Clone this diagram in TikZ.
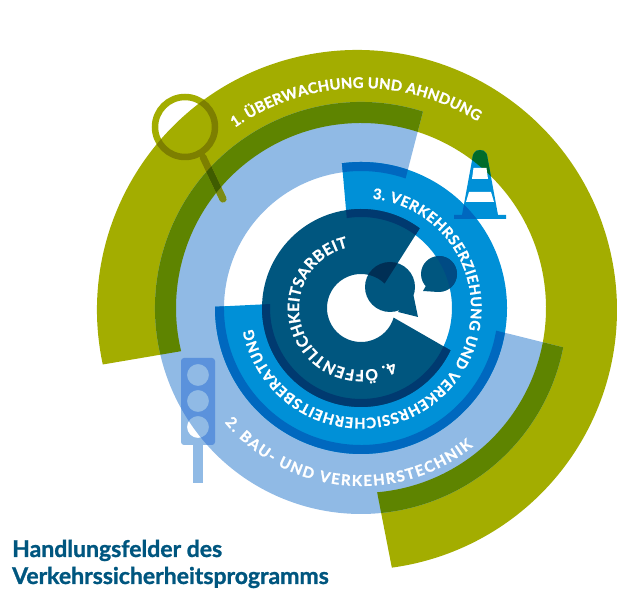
\documentclass[tikz,border=0pt]{standalone}
\usepackage{fontspec}
\setmainfont{Lato}[BoldFeatures={FakeBold=1.2}]
\usetikzlibrary{decorations.text}

\definecolor{olivering}{HTML}{A3AD00}
\definecolor{darkgreen}{HTML}{5E8400}
\definecolor{lightblue}{HTML}{90BAE5}
\definecolor{midblue}{HTML}{0090D7}
\definecolor{deepblue}{HTML}{0068BF}
\definecolor{petrol}{HTML}{00567F}
\definecolor{navy}{HTML}{003A70}
\definecolor{lensdark}{HTML}{7D7F00}
\definecolor{lensblue}{HTML}{7B8B14}
\definecolor{lensdeep}{HTML}{3F5C00}
\definecolor{conegreen}{HTML}{006B2A}
\definecolor{lampblue}{HTML}{5B92DC}
\definecolor{bubbleblue}{HTML}{004B84}
\definecolor{bubbledark}{HTML}{002F55}

% outer start, outer end, outer radius, inner radius, inner end, inner start
\newcommand{\ringseg}[6]{([shift={(#1:#3)}]mid) arc[start angle=#1,end angle=#2,radius=#3]
  -- ([shift={(#5:#4)}]mid) arc[start angle=#5,end angle=#6,radius=#4] -- cycle}
\newcommand{\ringone}{([shift={(192.1:260)}]outermid) arc[start angle=192.1,end angle=-82.3,radius=260]
  -- ([shift={(-85:185)}]mid) arc[start angle=-85,end angle=193.5,radius=185] -- cycle}
\newcommand{\ringtwo}{\ringseg{72.5}{349}{206}{137}{350.5}{71}}
\newcommand{\ringthree}{\ringseg{97.5}{-180.5}{146}{91}{-182.5}{99}}
\newcommand{\ringfour}{\ringseg{53.6}{334.7}{99}{34}{343.6}{46}}
\newcommand{\bubblebig}{(390,313) circle[radius=25] (413,307) -- (398,288) -- (418,283) -- cycle}
\newcommand{\bubblesmall}{(439,326) circle[radius=18] (428,318) -- (423,309) -- (438,308) -- cycle}
\newcommand{\conebody}{(473,445) -- (474,447) .. controls (476,451) and (484,451) .. (486,447) -- (487,445) -- (498,385)
  -- (506,385) -- (506,381) -- (454,381) -- (454,385) -- (462,385) -- cycle}
\newcommand{\lampbox}{[rounded corners=3pt] (181,242) rectangle (215,155) [sharp corners] (198,225) circle[radius=11]
  (198,199) circle[radius=11] (198,173) circle[radius=11]}
\newcommand{\lens}[1]{\draw[lensline,#1] (185,473) circle[radius=30];
  \draw[lensline,line width=7pt,line cap=round,#1] (203,443) -- (223,401);}

\tikzset{
  lensline/.style={line width=6.5pt}
}

\begin{document}
\begin{tikzpicture}[x=1pt,y=1pt]
  \useasboundingbox (0,0) rectangle (638,600);
  \coordinate (mid) at (361,292);
  \coordinate (outermid) at (357,290);

  % Field 1
  \fill[olivering] \ringone;

  % Field 2
  \fill[lightblue] \ringtwo;
  \begin{scope}
    \clip \ringone;
    \fill[darkgreen] \ringtwo;
  \end{scope}

  % Field 3
  \fill[midblue] \ringthree;
  \begin{scope}
    \clip \ringtwo;
    \fill[deepblue] \ringthree;
  \end{scope}

  % Field 4
  \fill[petrol] \ringfour;
  \begin{scope}
    \clip \ringthree;
    \fill[navy] \ringfour;
  \end{scope}

  % Speech bubbles
  \fill[petrol] \bubblebig;
  \fill[petrol] \bubblesmall;
  \begin{scope}
    \clip \ringfour;
    \fill[bubbledark] \bubblebig;
  \end{scope}
  \begin{scope}
    \clip \ringthree;
    \fill[bubbleblue] \bubblesmall;
  \end{scope}

  % Magnifying glass
  \lens{olivering}
  \begin{scope}
    \clip \ringone;
    \lens{lensdark}
  \end{scope}
  \begin{scope}
    \clip \ringtwo;
    \lens{lensblue}
  \end{scope}
  \begin{scope}
    \clip \ringone;
    \clip \ringtwo;
    \lens{lensdeep}
  \end{scope}

  % Traffic cone
  \fill[midblue] \conebody;
  \begin{scope}
    \clip \ringone;
    \fill[conegreen] \conebody;
  \end{scope}
  \begin{scope}
    \clip \ringthree;
    \fill[deepblue] \conebody;
  \end{scope}
  \fill[white] (473.5,432) -- (486.5,432) -- (488,421) -- (472,421) -- cycle;
  \fill[white] (469,408) -- (491,408) -- (494,398) -- (466,398) -- cycle;

  % Traffic light
  \fill[lightblue] (193,117) rectangle (203,155);
  \fill[lightblue,even odd rule] \lampbox;
  \begin{scope}
    \clip \ringtwo;
    \fill[lampblue,even odd rule] \lampbox;
  \end{scope}

  % Labels on the rings
  \path[decorate,decoration={text along path,text color=white,text align={fit to path},
    text={|\fontsize{14.8}{14.8}\selectfont\bfseries|1. ÜBERWACHUNG UND AHNDUNG}}]
    ([shift={(125:220)}]mid) arc[start angle=125,end angle=58,radius=220];
  \path[decorate,decoration={text along path,text color=white,text align={fit to path},
    text={|\fontsize{15}{15}\selectfont\bfseries|2. BAU- UND VERKEHRSTECHNIK}}]
    ([shift={(220:178)}]mid) arc[start angle=220,end angle=309,radius=178];
  \path[decorate,decoration={text along path,text color=white,text align={fit to path},
    text={|\fontsize{14.5}{14.5}\selectfont\bfseries|3. VERKEHRSERZIEHUNG UND VERKEHRSSICHERHEITSBERATUNG}}]
    ([shift={(84:110)}]mid) arc[start angle=84,end angle=-169,radius=110];
  \path[decorate,decoration={text along path,text color=white,text align={fit to path},
    text={|\fontsize{15.5}{15.5}\selectfont\bfseries|4. ÖFFENTLICHKEITSARBEIT}}]
    ([shift={(-59:62)}]mid) arc[start angle=-59,end angle=-258,radius=62];

  % Title
  \node (title) at (12,36) [anchor=west,align=left,text=petrol,inner sep=0pt,
    font=\fontsize{23}{27}\selectfont\bfseries] {Handlungsfelder des\\Verkehrssicherheitsprogramms};
\end{tikzpicture}
\end{document}
